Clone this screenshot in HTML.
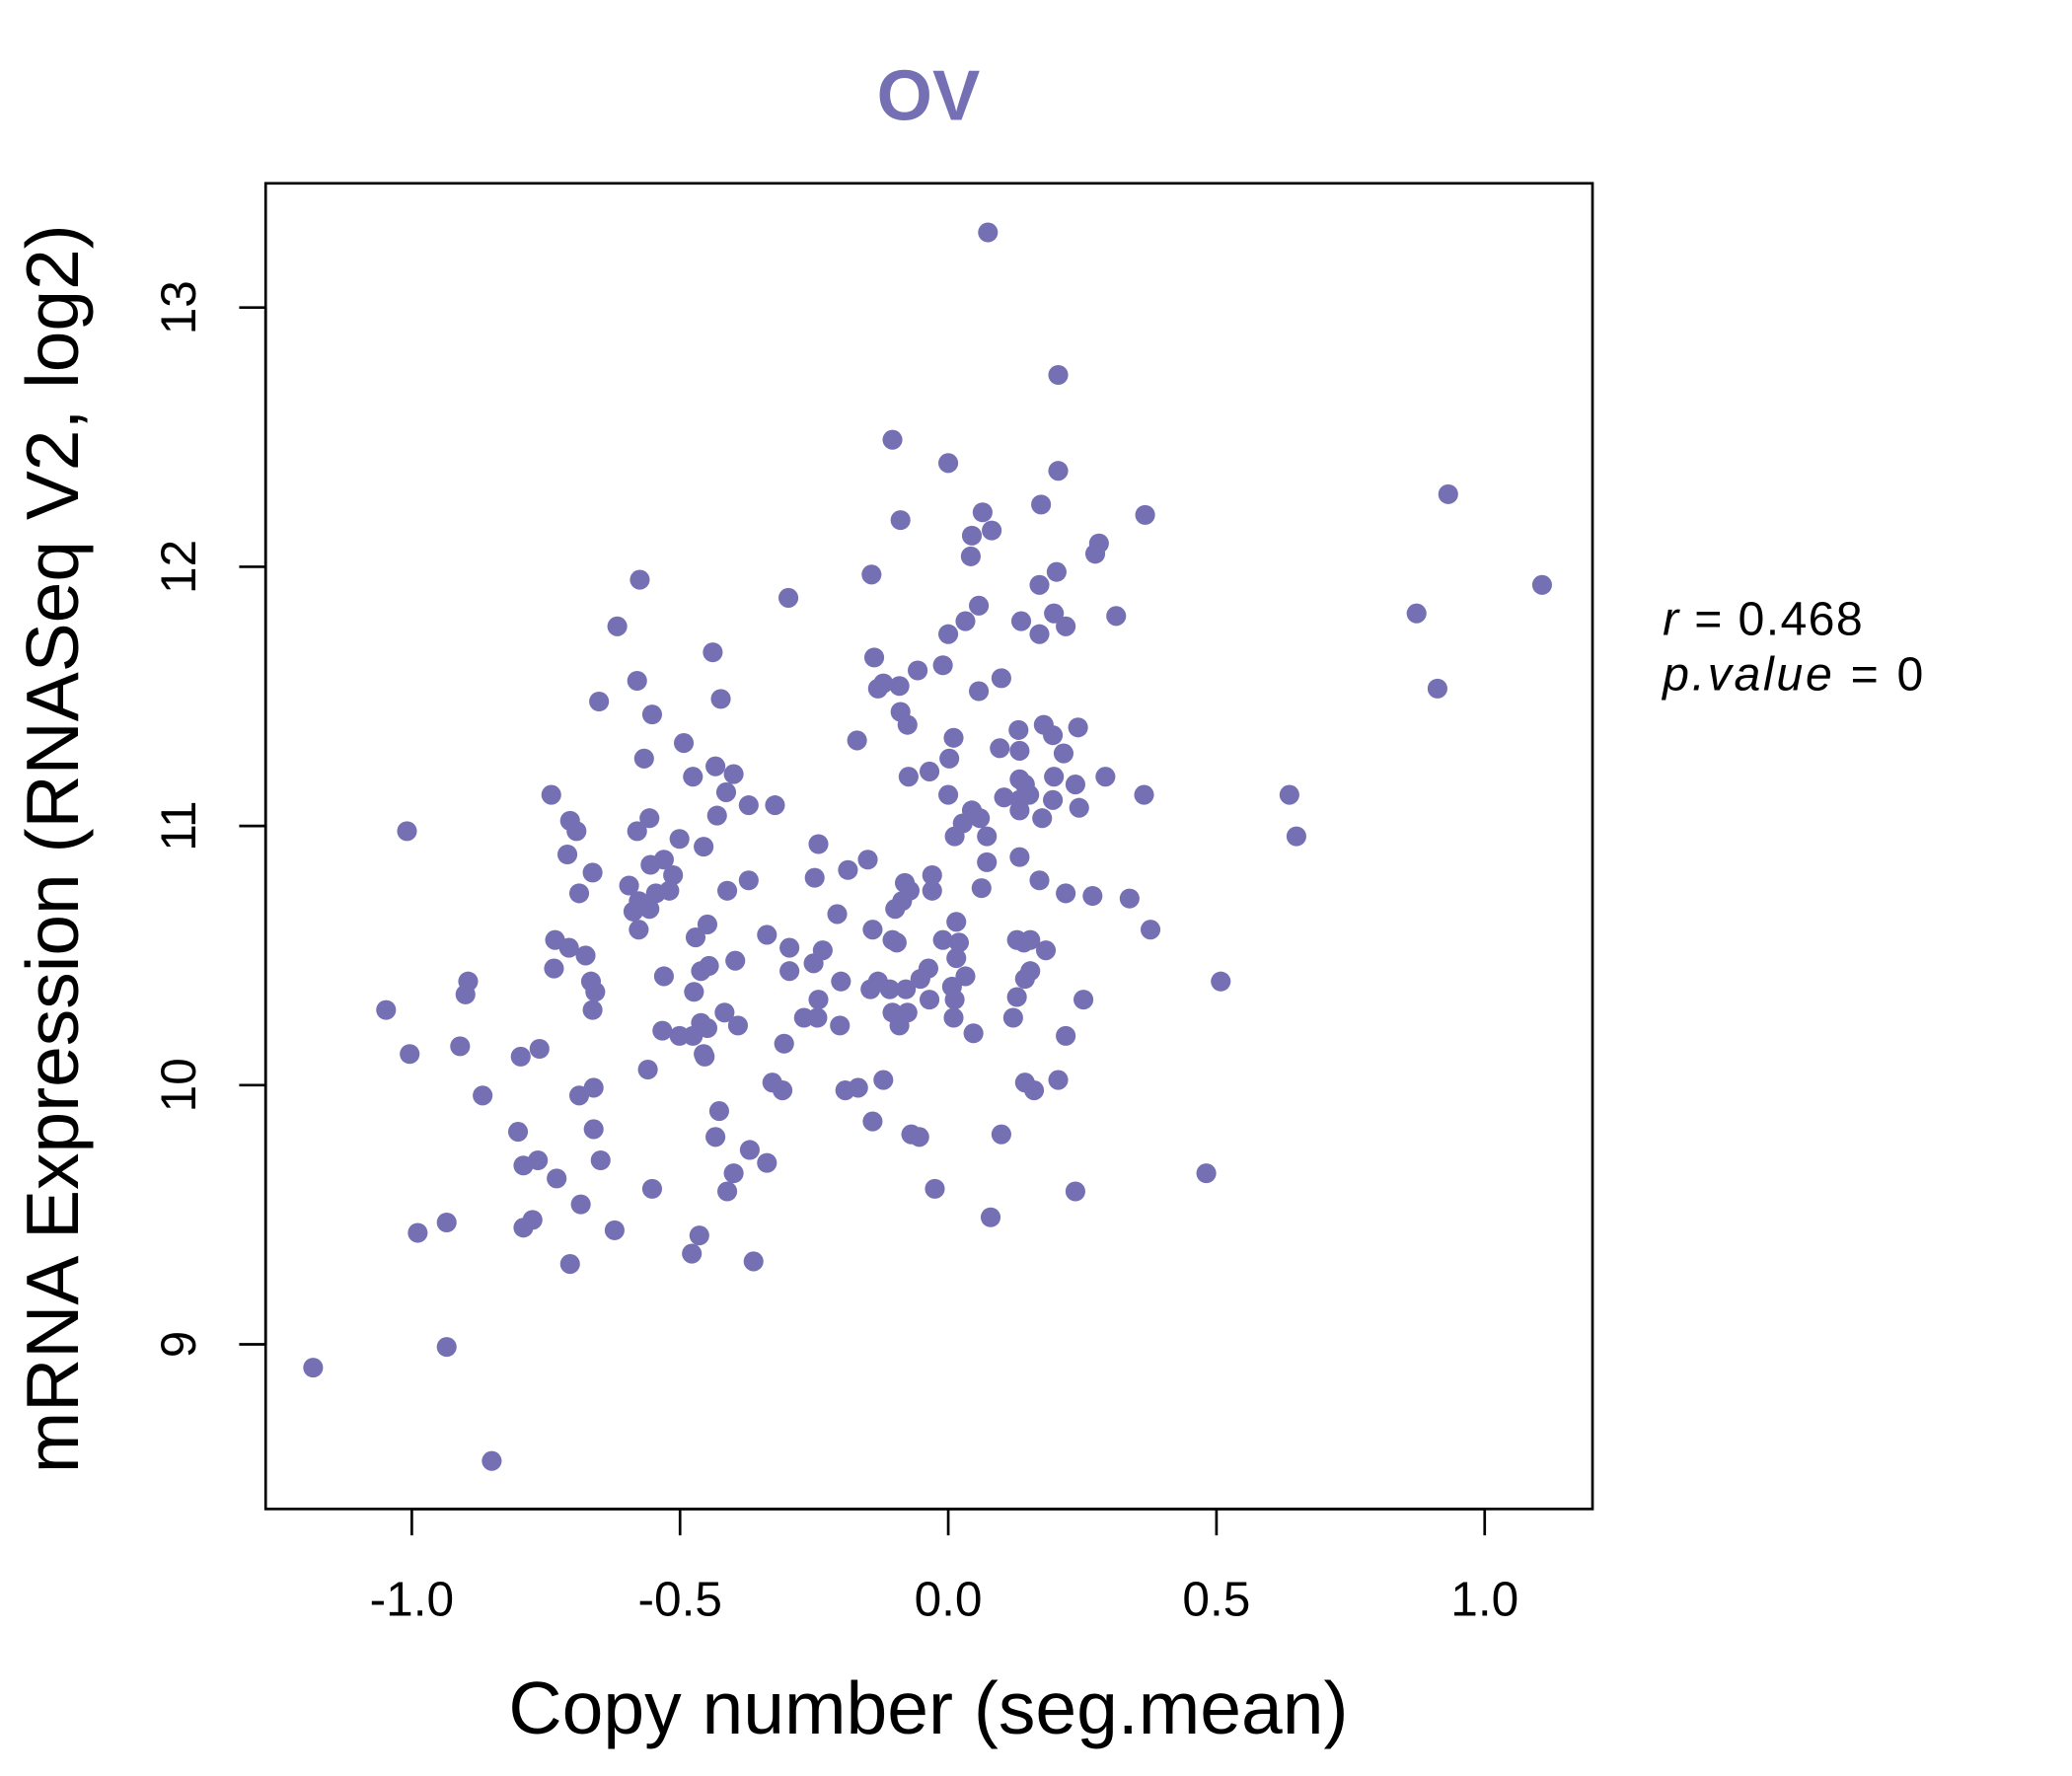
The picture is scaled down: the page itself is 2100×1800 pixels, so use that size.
<!DOCTYPE html>
<html><head><meta charset="utf-8"><style>
html,body{margin:0;padding:0;background:#fff;}
svg{display:block;font-family:"Liberation Sans",sans-serif;}
</style></head><body>
<svg id="chart" width="2100" height="1800" viewBox="0 0 1560 1337" preserveAspectRatio="none" xmlns="http://www.w3.org/2000/svg">
<rect width="1560" height="1337" fill="#fff"/>
<g transform="matrix(0.996 0 0 0.994 -1.19 0.83)">
<text x="703" y="90" text-anchor="middle" font-size="54" font-weight="bold" fill="#7570B3">OV</text>
<rect x="202" y="138" width="1003" height="1004" fill="none" stroke="#000" stroke-width="2"/>
<g id="xaxis"></g>
<g id="yaxis"></g>
<g id="points"></g>
<text x="703" y="1312" text-anchor="middle" font-size="56">Copy number (seg.mean)</text>
<text transform="translate(60,642) rotate(-90)" text-anchor="middle" font-size="56">mRNA Expression (RNASeq V2, log2)</text>
<text x="1258" y="480" font-size="36" letter-spacing="1"><tspan font-style="italic">r</tspan> = 0.468</text>
<text x="1258" y="522" font-size="36" letter-spacing="2"><tspan font-style="italic">p.value</tspan> = 0</text>
</g>
</svg>
<script>
const xTicks = [-1.0, -0.5, 0.0, 0.5, 1.0];
const xTickLabels = ["-1.0", "-0.5", "0.0", "0.5", "1.0"];
const yTicks = [9, 10, 11, 12, 13];
const yTickLabels = ["9", "10", "11", "12", "13"];
const xVals = [0.074,0.205,-0.104,0.0,0.205,0.932,0.064,0.173,-0.089,0.367,0.081,0.044,0.281,0.274,0.042,1.107,0.202,-0.143,-0.575,0.170,-0.298,0.057,0.873,0.197,0.313,0.032,0.136,-0.617,0.219,0.0,0.170,-0.439,-0.138,-0.010,-0.057,0.099,-0.580,-0.121,-0.091,-0.131,0.912,0.057,-0.424,-0.651,-0.089,-0.552,-0.076,0.178,0.242,0.131,0.195,0.010,-0.493,-0.170,0.096,0.133,0.215,-0.567,0.002,-0.434,-0.035,-0.476,-0.400,-0.074,0.293,0.197,0.133,0.143,0.237,-0.414,0.151,0.636,-0.740,0.365,0.0,0.104,0.195,-0.323,-0.372,0.133,0.244,0.044,-0.431,0.133,0.175,0.059,-0.557,0.027,-0.705,-0.693,-1.009,-0.580,0.072,0.649,-0.501,0.012,-0.456,-0.242,-0.710,-0.150,0.133,0.072,-0.530,-0.555,-0.663,-0.187,-0.513,-0.372,-0.249,-0.030,0.170,-0.081,-0.595,0.062,-0.520,-0.072,-0.030,-0.412,-0.545,-0.688,0.219,0.269,0.338,-0.086,-0.577,-0.587,-0.557,-0.099,-0.207,0.015,-0.449,-0.577,-0.141,0.377,-0.338,-0.471,-0.733,0.128,0.153,-0.010,0.020,-0.104,-0.096,-0.707,0.141,-0.296,0.182,-0.234,-0.676,0.015,-0.251,-0.397,-0.735,-0.446,-0.037,-0.461,-0.296,0.153,0.032,-0.530,-0.052,0.143,-0.895,-0.666,-0.200,-0.131,0.508,-0.145,-0.109,-0.079,0.007,-0.474,-0.658,-0.900,0.128,-0.242,-0.035,0.012,0.252,-1.048,-0.663,-0.417,-0.104,-0.076,0.010,-0.269,-0.244,0.121,-0.091,-0.461,-0.392,-0.202,-0.449,-0.533,0.047,-0.501,-0.476,0.219,-0.910,-0.306,-0.762,-0.456,-1.004,-0.797,-0.454,-0.560,-0.121,0.205,-0.328,0.143,-0.661,-0.168,0.160,-0.309,-0.192,-0.868,-0.688,-0.427,-0.141,-0.661,-0.802,-0.069,-0.054,0.099,-0.434,-0.370,-0.648,-0.765,-0.338,-0.792,-0.400,0.481,-0.730,-0.552,-0.025,0.237,-0.412,-0.685,0.079,-0.935,-0.775,-0.792,-0.622,-0.989,-0.464,-0.478,-0.363,-0.705,-0.935,-1.184,-0.851];
const yVals = [13.29,12.74,12.49,12.40,12.37,12.28,12.21,12.24,12.18,12.20,12.14,12.12,12.09,12.05,12.04,11.93,11.98,11.97,11.95,11.93,11.88,11.85,11.82,11.82,11.81,11.79,11.79,11.77,11.77,11.74,11.74,11.67,11.65,11.62,11.60,11.57,11.56,11.55,11.54,11.53,11.53,11.52,11.49,11.48,11.44,11.43,11.39,11.39,11.38,11.37,11.35,11.34,11.32,11.33,11.30,11.29,11.28,11.26,11.26,11.23,11.21,11.19,11.20,11.19,11.19,11.19,11.18,11.16,11.16,11.13,11.12,11.12,11.12,11.12,11.12,11.11,11.10,11.08,11.08,11.10,11.07,11.06,11.04,11.06,11.03,11.03,11.03,11.01,11.02,10.98,10.98,10.98,10.96,10.96,10.95,10.96,10.92,10.93,10.89,10.87,10.88,10.86,10.87,10.85,10.82,10.83,10.81,10.79,10.80,10.81,10.79,10.78,10.77,10.76,10.75,10.75,10.75,10.75,10.74,10.74,10.74,10.73,10.72,10.71,10.71,10.67,10.68,10.68,10.66,10.63,10.62,10.60,10.60,10.60,10.58,10.57,10.56,10.56,10.56,10.56,10.55,10.56,10.55,10.53,10.55,10.53,10.52,10.52,10.50,10.49,10.47,10.48,10.45,10.46,10.45,10.44,10.44,10.44,10.42,10.42,10.41,10.41,10.40,10.40,10.40,10.40,10.40,10.37,10.37,10.37,10.38,10.36,10.36,10.35,10.34,10.33,10.33,10.33,10.33,10.29,10.29,10.28,10.28,10.28,10.26,10.26,10.26,10.26,10.23,10.24,10.23,10.23,10.22,10.21,10.20,10.19,10.19,10.19,10.15,10.16,10.14,10.12,10.12,10.11,10.11,10.06,10.02,10.02,10.01,10.01,9.99,9.99,9.98,9.98,9.98,9.96,9.96,9.90,9.86,9.83,9.82,9.81,9.80,9.81,9.80,9.75,9.71,9.71,9.70,9.69,9.66,9.66,9.64,9.60,9.60,9.59,9.59,9.54,9.49,9.47,9.48,9.45,9.44,9.43,9.42,9.35,9.32,9.31,8.99,8.91,8.55];

const NS = "http://www.w3.org/2000/svg";
function xScale(v){ return 718 + v * 405.5; }
function yScale(v){ return 821 - (v - 10) * 196.3; }

const xg = document.getElementById('xaxis');
const yg = document.getElementById('yaxis');
const xl = document.createElementNS(NS,'line');
xl.setAttribute('x1', xScale(xTicks[0])); xl.setAttribute('x2', xScale(xTicks[xTicks.length-1]));
xl.setAttribute('y1', 1142); xl.setAttribute('y2', 1142); xl.setAttribute('stroke','#000'); xl.setAttribute('stroke-width','2');


xg.appendChild(xl);
xTicks.forEach((t,i)=>{
  const l = document.createElementNS(NS,'line');
  l.setAttribute('x1', xScale(t)); l.setAttribute('x2', xScale(t));
  l.setAttribute('y1', 1142); l.setAttribute('y2', 1162); l.setAttribute('stroke','#000'); l.setAttribute('stroke-width','2');
  
  
  xg.appendChild(l);
  const tx = document.createElementNS(NS,'text');
  tx.setAttribute('x', xScale(t)); tx.setAttribute('y', 1223); tx.setAttribute('text-anchor','middle'); tx.setAttribute('font-size','37');
  tx.textContent = xTickLabels[i];
  
  
  xg.appendChild(tx);
});
const yl = document.createElementNS(NS,'line');
yl.setAttribute('x1', 202); yl.setAttribute('x2', 202);
yl.setAttribute('y1', yScale(yTicks[0])); yl.setAttribute('y2', yScale(yTicks[yTicks.length-1])); yl.setAttribute('stroke','#000'); yl.setAttribute('stroke-width','2');


yg.appendChild(yl);
yTicks.forEach((t,i)=>{
  const l = document.createElementNS(NS,'line');
  l.setAttribute('x1', 182); l.setAttribute('x2', 202);
  l.setAttribute('y1', yScale(t)); l.setAttribute('y2', yScale(t)); l.setAttribute('stroke','#000'); l.setAttribute('stroke-width','2');
  
  
  yg.appendChild(l);
  const tx = document.createElementNS(NS,'text');
  tx.setAttribute('transform', 'translate(149,' + yScale(t) + ') rotate(-90)');
  tx.setAttribute('text-anchor','middle'); tx.setAttribute('font-size','37');
  tx.textContent = yTickLabels[i];
  
  
  yg.appendChild(tx);
});
const pg = document.getElementById('points');
xVals.forEach((xv,i)=>{
  const c = document.createElementNS(NS,'circle');
  c.setAttribute('cx', xScale(xv)); c.setAttribute('cy', yScale(yVals[i])); c.setAttribute('r', 7.5);
  c.setAttribute('fill', '#7570B3');
  
  
  pg.appendChild(c);
});
</script>
</body></html>
